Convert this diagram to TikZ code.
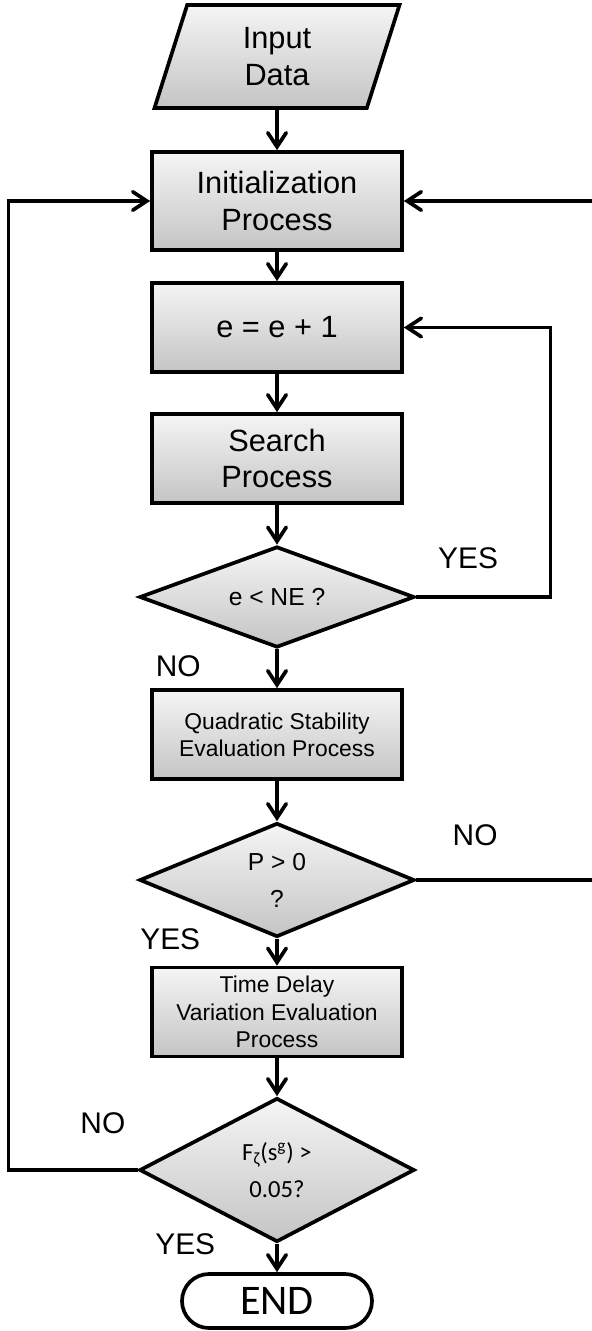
\documentclass[tikz,border=0pt]{standalone}
\usepackage{fontspec}
\setmainfont{Liberation Sans}
\newfontfamily\carlito{Carlito}
\usetikzlibrary{shapes.geometric,arrows.meta,positioning}

\begin{document}
\begin{tikzpicture}[node distance=26mm, line width=2.1pt, >={Straight Barb[length=8pt,width=10.5pt,line cap=round]},
  block/.style={rectangle, draw, top color=black!4, bottom color=black!23, minimum width=50mm, minimum height=17.8mm, align=center, font=\fontsize{17.5}{21}\selectfont},
  smallblock/.style={block, font=\fontsize{13}{15.5}\selectfont},
  decision/.style={diamond, draw, top color=black!4, bottom color=black!23, minimum width=55mm, inner sep=0pt, align=center, font=\fontsize{14}{21}\selectfont},
  io/.style={trapezium, trapezium left angle=65, trapezium right angle=115, trapezium stretches body, draw, top color=black!4, bottom color=black!23, minimum width=49mm, minimum height=20.6mm, align=center, font=\fontsize{17.5}{21}\selectfont},
  terminal/.style={rectangle, rounded corners=5.4mm, draw, minimum width=38mm, minimum height=10.8mm, font=\carlito\fontsize{24}{28}\selectfont},
  answer/.style={inner sep=0pt, font=\fontsize{17}{20}\selectfont}]
  \useasboundingbox (0,0) rectangle (11.84,-26.62);
  \node[io] (input) at (5.54,-1.13) {Input\\Data};
  \node[block, below of=input, node distance=28.9mm, minimum height=19.6mm] (init) {Initialization\\Process};
  \node[block, below of=init, node distance=25.3mm] (inc) {e = e + 1};
  \node[block, below of=inc, node distance=26.2mm] (search) {Search\\Process};
  \node[decision, below of=search, node distance=27.7mm, minimum height=20.2mm, aspect=2.7] (stop) {e < NE ?};
  \node[smallblock, below of=stop, node distance=27.5mm] (quad) {Quadratic Stability\\Evaluation Process};
  \node[decision, below of=quad, node distance=29.1mm, minimum height=22.8mm, aspect=2.4] (pos) {P > 0\\?};
  \node[smallblock, below of=pos, node distance=26.4mm] (delay) {Time Delay\\Variation Evaluation\\Process};
  \node[decision, below of=delay, node distance=31.6mm, minimum height=28.8mm, aspect=1.9, font=\carlito\fontsize{14}{21}\selectfont] (crit) {F\textsubscript{ζ}(s\textsuperscript{g}) >\\0.05?};
  \node[terminal, below of=crit, node distance=26.2mm] (end) {END};

  \draw[->] (input) -- (init);
  \draw[->] (init) -- (inc);
  \draw[->] (inc) -- (search);
  \draw[->] (search) -- (stop);
  \draw[->] (stop) -- (quad);
  \draw[->] (quad) -- (pos);
  \draw[->] (pos) -- (delay);
  \draw[->] (delay) -- (crit);
  \draw[->] (crit) -- (end);
  \draw[->] (stop.east) -- ++(26.8mm,0) |- (inc.east);
  \draw[->] (pos.east) -- ++(35.4mm,0) |- (init.east);
  \draw[->] (crit.west) -- ++(-25.8mm,0) |- (init.west);

  \node[answer, above right=5.2mm and 4mm of stop.east] {YES};
  \node[answer, below left=0.8mm and 14.9mm of stop.south] {NO};
  \node[answer, above right=6.4mm and 6.9mm of pos.east] {NO};
  \node[answer, left=15mm of pos.south] {YES};
  \node[answer, above left=6.8mm and 2.1mm of crit.west] {NO};
  \node[answer, left=12mm of crit.south] {YES};
\end{tikzpicture}
\end{document}
